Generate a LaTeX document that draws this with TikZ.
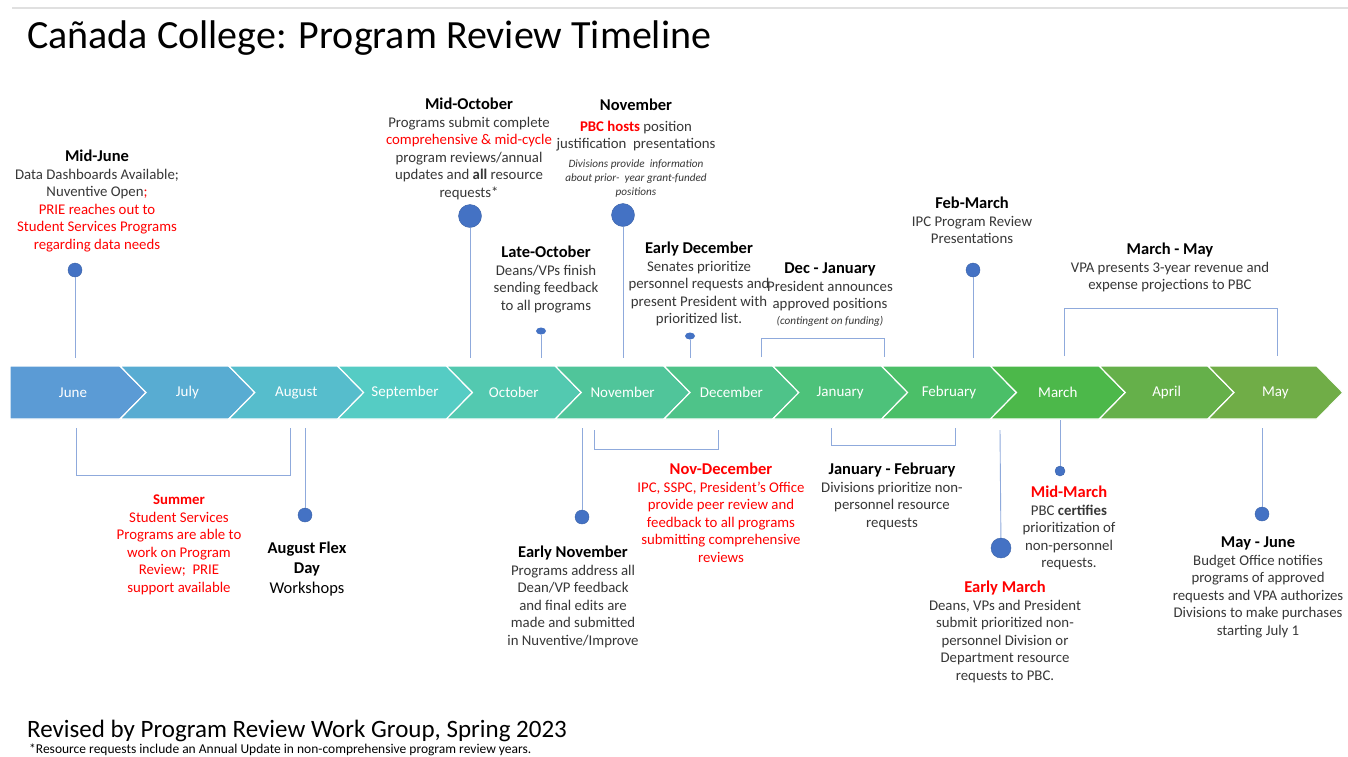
\documentclass[tikz,border=0pt]{standalone}
\usepackage{fontspec}
\setmainfont{Carlito}
\usetikzlibrary{shapes.geometric}

\definecolor{dotblue}{RGB}{68,114,196}
\definecolor{stemblue}{RGB}{143,170,220}
\definecolor{txtgray}{RGB}{55,55,55}
\definecolor{hotred}{RGB}{255,0,0}
% month colours, June .. May
\definecolor{cm1}{RGB}{91,155,213}
\definecolor{cm2}{RGB}{88,172,210}
\definecolor{cm3}{RGB}{86,189,204}
\definecolor{cm4}{RGB}{85,204,196}
\definecolor{cm5}{RGB}{83,201,176}
\definecolor{cm6}{RGB}{80,197,154}
\definecolor{cm7}{RGB}{78,195,137}
\definecolor{cm8}{RGB}{77,194,122}
\definecolor{cm9}{RGB}{75,191,104}
\definecolor{cm10}{RGB}{76,184,74}
\definecolor{cm11}{RGB}{101,176,74}
\definecolor{cm12}{RGB}{112,173,71}

\newcommand{\evhead}[1]{{\fontsize{16.5}{17.5}\selectfont\bfseries\color{black}#1}}
\newcommand{\evsmall}[1]{{\fontsize{11.2}{13}\selectfont\itshape #1}}

\begin{document}
\begin{tikzpicture}[x=1pt,y=1pt,yscale=-1,
    evt/.style={align=center,inner sep=0pt,anchor=north,text=txtgray,font=\fontsize{14.8}{17.5}\selectfont},
    redevt/.style={evt,text=hotred},
    dot/.style={circle,fill=dotblue,draw=dotblue!85!black,inner sep=0pt,minimum size=#1},
    pip/.style={ellipse,fill=dotblue,inner sep=0pt,minimum width=10pt,minimum height=7pt},
    stem/.style={draw=stemblue,line width=0.9pt},
    chev/.style={fill=#1,draw=white,line width=1.2pt},
    month/.style={text=white,font=\fontsize{15}{17}\selectfont}]
    
    \useasboundingbox (0,0) rectangle (1348,756);
    \fill[white] (0,0) rectangle (1348,756);
    \draw[black!12,line width=1.2pt] (12,8) -- (1348,8);
    
    \node[anchor=west,inner sep=0pt,font=\fontsize{40}{44}\selectfont] (title) at (27,38) {Cañada College: Program Review Timeline};
    
    % the month band
    \draw[chev=cm1] (10,366) -- (120,366) -- (146,392.5) -- (120,419) -- (10,419) -- cycle;
    \node[month] (m1) at (73,392.5) {June};
    \foreach \m/\i in {July/2,August/3,September/4,October/5,November/6,December/7,January/8,February/9,March/10,April/11,May/12}{
        \pgfmathsetmacro{\bl}{120+108.8*(\i-2)}
        \pgfmathsetmacro{\br}{\bl+108.8}
        \draw[chev=cm\i] (\bl,366) -- (\br,366) -- (\br+26,392.5) -- (\br,419) -- (\bl,419) -- (\bl+26,392.5) -- cycle;
        \node[month] (m\i) at ({(\bl+\br)/2+13},392.5) {\m};
    }
    
    % above the band
    \node[evt] (midjune) at (97,150) {\evhead{Mid-June}\\Data Dashboards Available;\\Nuventive Open\textcolor{hotred}{;}\\\textcolor{hotred}{PRIE reaches out to}\\\textcolor{hotred}{Student Services Programs}\\\textcolor{hotred}{regarding data needs}};
    \node[dot=14pt] (midjune-dot) at (75,270) {};
    \coordinate (midjune-end) at (75,358);
    \draw[stem] (midjune-dot) -- (midjune-end);
    
    \node[evt] (midoct) at (469,98) {\evhead{Mid-October}\\Programs submit complete\\\textcolor{hotred}{comprehensive \& mid-cycle}\\program reviews/annual\\updates and \textbf{all} resource\\requests*};
    \node[dot=23pt] (midoct-dot) at (470,216) {};
    \coordinate (midoct-end) at (470,358);
    \draw[stem] (midoct-dot) -- (midoct-end);
    
    \node[evt] (nov) at (636,99) {\evhead{November}\\[3pt]\textcolor{hotred}{\textbf{PBC hosts}} position\\justification~ presentations\\[1pt]\evsmall{Divisions provide~ information}\\[-3.5pt]\evsmall{about prior-~ year grant-funded}\\[-3.5pt]\evsmall{positions}};
    \node[dot=23pt] (nov-dot) at (623,215) {};
    \coordinate (nov-end) at (623,358);
    \draw[stem] (nov-dot) -- (nov-end);
    
    \node[evt] (lateoct) at (546,246) {\evhead{Late-October}\\Deans/VPs finish\\sending feedback\\to all programs};
    \node[pip] (lateoct-dot) at (541,331) {};
    \coordinate (lateoct-end) at (541,358);
    \draw[stem] (lateoct-dot) -- (lateoct-end);
    
    \node[evt] (earlydec) at (699,242) {\evhead{Early December}\\Senates prioritize\\personnel requests and\\present President with\\prioritized list.};
    \node[pip] (earlydec-dot) at (690,336) {};
    \coordinate (earlydec-end) at (690,358);
    \draw[stem] (earlydec-dot) -- (earlydec-end);
    
    \node[evt] (decjan) at (830,263) {\evhead{Dec - January}\\President announces\\approved positions\\[-2pt]\evsmall{(contingent on funding)}};
    \coordinate (decjan-l) at (761,357);
    \coordinate (decjan-r) at (884,357);
    \draw[stem] (decjan-l) -- ++(0,-19) -| (decjan-r);
    
    \node[evt] (febmar) at (972,197) {\evhead{Feb-March}\\IPC Program Review\\Presentations};
    \node[dot=14pt] (febmar-dot) at (973,270) {};
    \coordinate (febmar-end) at (973,358);
    \draw[stem] (febmar-dot) -- (febmar-end);
    
    \node[evt] (marmay) at (1170,243) {\evhead{March - May}\\VPA presents 3-year revenue and\\expense projections to PBC};
    \coordinate (marmay-l) at (1064,356);
    \coordinate (marmay-r) at (1277,356);
    \draw[stem] (marmay-l) -- ++(0,-48) -| (marmay-r);
    
    % below the band
    \coordinate (summer-l) at (76,428);
    \coordinate (summer-r) at (290,428);
    \draw[stem] (summer-l) -- ++(0,47) -| (summer-r);
    \node[redevt] (summer) at (179,495) {\textbf{Summer}\\Student Services\\Programs are able to\\work on Program\\Review;~ PRIE\\support available};
    
    \coordinate (flex-end) at (305,428);
    \node[dot=14pt] (flex-dot) at (305,515) {};
    \draw[stem] (flex-end) -- (flex-dot);
    \node[evt,text=black,font=\fontsize{16.5}{20}\selectfont] (flex) at (307,542) {\textbf{August Flex}\\\textbf{Day}\\Workshops};
    
    \coordinate (earlynov-end) at (582,428);
    \node[dot=14pt] (earlynov-dot) at (582,517) {};
    \draw[stem] (earlynov-end) -- (earlynov-dot);
    \node[evt] (earlynov) at (573,546) {\evhead{Early November}\\Programs address all\\Dean/VP feedback\\and final edits are\\made and submitted\\in Nuventive/Improve};
    
    \coordinate (novdec-l) at (594,430);
    \coordinate (novdec-r) at (718,430);
    \draw[stem] (novdec-l) -- ++(0,19) -| (novdec-r);
    \node[redevt] (novdec) at (721,463) {\evhead{\color{hotred}Nov-December}\\IPC, SSPC, President’s Office\\provide peer review and\\feedback to all programs\\submitting comprehensive\\reviews};
    
    \coordinate (janfeb-l) at (831,428);
    \coordinate (janfeb-r) at (955,428);
    \draw[stem] (janfeb-l) -- ++(0,17) -| (janfeb-r);
    \node[evt] (janfeb) at (892,463) {\evhead{January - February}\\Divisions prioritize non-\\personnel resource\\requests};
    
    \coordinate (earlymar-end) at (1000,430);
    \node[dot=20pt] (earlymar-dot) at (1001,548) {};
    \draw[stem] (earlymar-end) -- (earlymar-dot);
    \node[evt] (earlymar) at (1005,581) {\evhead{\color{hotred}Early March}\\Deans, VPs and President\\submit prioritized non-\\personnel Division or\\Department resource\\requests to PBC.};
    
    \coordinate (midmar-end) at (1060,420);
    \node[dot=10pt] (midmar-dot) at (1060,471) {};
    \draw[stem] (midmar-end) -- (midmar-dot);
    \node[evt] (midmar) at (1069,486) {\evhead{\color{hotred}Mid-March}\\PBC \textbf{certifies}\\prioritization of\\non-personnel\\requests.};
    
    \coordinate (mayjune-end) at (1262,428);
    \node[dot=14pt] (mayjune-dot) at (1262,514) {};
    \draw[stem] (mayjune-end) -- (mayjune-dot);
    \node[evt] (mayjune) at (1258,537) {\evhead{May - June}\\Budget Office notifies\\programs of approved\\requests and VPA authorizes\\Divisions to make purchases\\starting July 1};
    
    % footer
    \node[anchor=base west,inner sep=0pt,font=\fontsize{25}{27}\selectfont] (revised) at (27,737) {Revised by Program Review Work Group, Spring 2023};
    \node[anchor=base west,inner sep=0pt,font=\fontsize{13.5}{15}\selectfont] (note) at (29,753) {*Resource requests include an Annual Update in non-comprehensive program review years.};
    
\end{tikzpicture}
\end{document}
